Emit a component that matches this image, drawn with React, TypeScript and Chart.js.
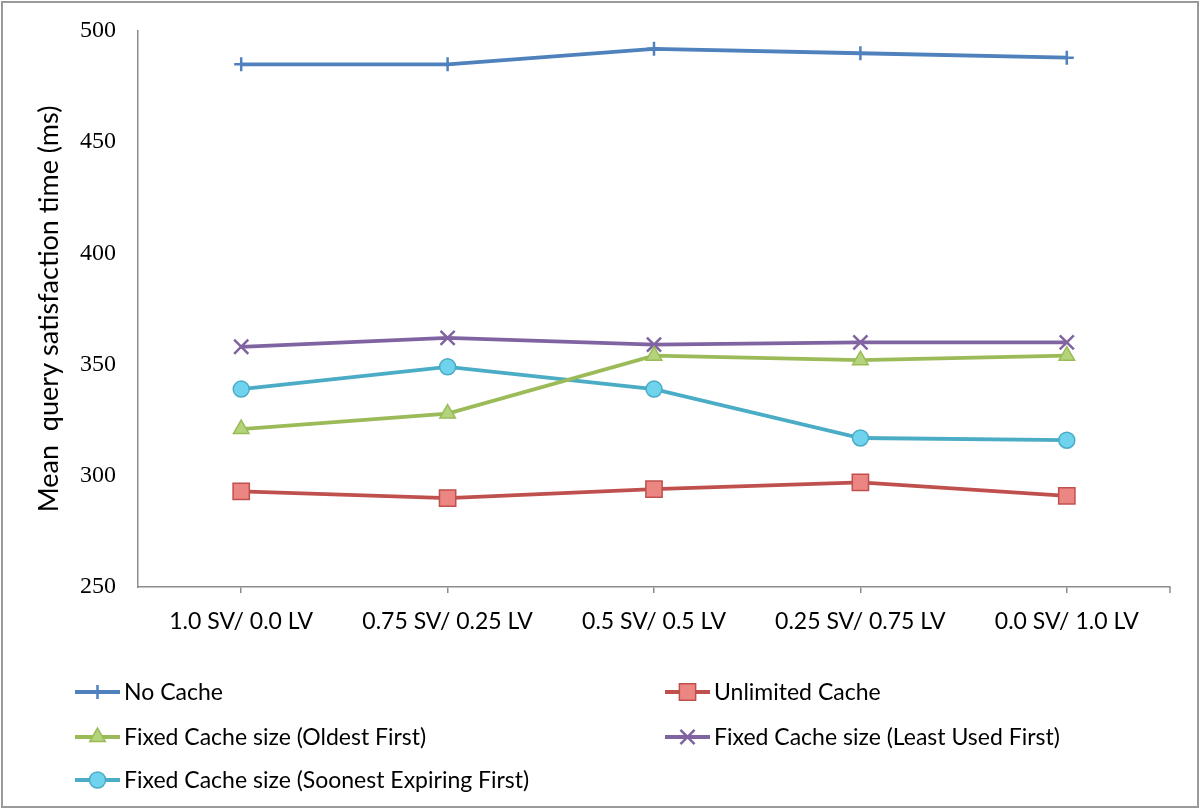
import React, { useEffect, useRef } from 'react';
import { Chart, registerables } from 'chart.js';
import { drawPoint } from 'chart.js/helpers';

Chart.register(...registerables);

const categories = ['1.0 SV/ 0.0 LV', '0.75 SV/ 0.25 LV', '0.5 SV/ 0.5 LV', '0.25 SV/ 0.75 LV', '0.0 SV/ 1.0 LV'];
const noCache = [485, 485, 492, 490, 488];
const unlimitedCache = [293, 290, 294, 297, 291];
const oldestFirst = [321, 328, 354, 352, 354];
const leastUsedFirst = [358, 362, 359, 360, 360];
const soonestExpiringFirst = [339, 349, 339, 317, 316];
const seriesLabels = [
  'No Cache',
  'Unlimited Cache',
  'Fixed Cache size (Oldest First)',
  'Fixed Cache size (Least Used First)',
  'Fixed Cache size (Soonest Expiring First)',
];
const yTitle = 'Mean  query satisfaction time (ms)';
const yMin = 250;
const yMax = 500;
const yStep = 50;

const SANS = 'Lato, "Open Sans", sans-serif';
const SERIF = '"Liberation Serif", "DejaVu Serif", serif';

const legendSlots = [
  { x: 75, y: 692 },
  { x: 665, y: 692 },
  { x: 75, y: 737 },
  { x: 665, y: 737 },
  { x: 75, y: 780 },
];

const framePlugin = {
  id: 'framePlugin',
  afterDraw(chart: any) {
    const ctx = chart.ctx;
    ctx.save();
    // outer frame
    ctx.strokeStyle = '#9a9a9a';
    ctx.lineWidth = 2;
    ctx.strokeRect(2, 2, chart.width - 4, chart.height - 4);
    // end tick on x axis
    const xs = chart.scales.x;
    ctx.strokeStyle = '#8c8c8c';
    ctx.lineWidth = 1.5;
    ctx.beginPath();
    ctx.moveTo(xs.right, xs.top);
    ctx.lineTo(xs.right, xs.top + 6);
    ctx.stroke();
    // legend
    ctx.font = '23px ' + SANS;
    ctx.textBaseline = 'middle';
    ctx.textAlign = 'left';
    chart.data.datasets.forEach((ds: any, i: number) => {
      const slot = legendSlots[i];
      if (!slot) return;
      ctx.strokeStyle = ds.borderColor;
      ctx.lineWidth = 4;
      ctx.beginPath();
      ctx.moveTo(slot.x, slot.y);
      ctx.lineTo(slot.x + 45, slot.y);
      ctx.stroke();
      ctx.fillStyle = ds.pointBackgroundColor;
      ctx.strokeStyle = ds.pointBorderColor;
      ctx.lineWidth = ds.pointBorderWidth;
      drawPoint(ctx, { pointStyle: ds.pointStyle, radius: ds.pointRadius, rotation: 0, borderWidth: ds.pointBorderWidth }, slot.x + 22.5, slot.y);
      ctx.fillStyle = '#000000';
      ctx.fillText(ds.label, slot.x + 49, slot.y + 1);
    });
    ctx.restore();
  },
};

export default function App() {
  const ref = useRef<HTMLCanvasElement>(null);
  useEffect(() => {
    document.body.style.margin = '0';
    const ctx = ref.current!.getContext('2d')!;
    const mk = (label: string, data: number[], color: string, fill: string, style: string, radius: number, bw: number) => ({
      label,
      data,
      borderColor: color,
      backgroundColor: color,
      borderWidth: 3.8,
      pointStyle: style,
      pointRadius: radius,
      pointHoverRadius: radius,
      pointBackgroundColor: fill,
      pointBorderColor: color,
      pointBorderWidth: bw,
      tension: 0,
    });
    const chart = new Chart(ctx, {
      type: 'line',
      data: {
        labels: categories,
        datasets: [
          mk(seriesLabels[0], noCache, '#4F81BD', '#4F81BD', 'cross', 7, 2.5),
          mk(seriesLabels[1], unlimitedCache, '#C0504D', '#EC8682', 'rect', 11.5, 1.5),
          mk(seriesLabels[2], oldestFirst, '#9BBB59', '#B3D47A', 'triangle', 9, 1.5),
          mk(seriesLabels[3], leastUsedFirst, '#8064A2', '#8064A2', 'crossRot', 10, 2.5),
          mk(seriesLabels[4], soonestExpiringFirst, '#4BACC6', '#6FD3EE', 'circle', 8, 1.5),
        ],
      },
      options: {
        responsive: false,
        animation: false,
        layout: { padding: { top: 31, right: 30, bottom: 162, left: 0 } },
        plugins: { legend: { display: false }, tooltip: { enabled: false } },
        scales: {
          x: {
            type: 'category',
            offset: true,
            afterFit: (s: any) => { s.height = 60; s.paddingLeft = 0; s.paddingRight = 0; },
            grid: { display: true, drawOnChartArea: false, drawTicks: true, tickLength: 6, color: '#8c8c8c', lineWidth: 1.5, offset: false },
            border: { display: true, color: '#8c8c8c', width: 1.5 },
            ticks: { color: '#000000', font: { family: SANS, size: 23 }, padding: 15, maxRotation: 0, autoSkip: false },
          },
          y: {
            min: yMin,
            max: yMax,
            afterFit: (s: any) => { s.width = 138; s.paddingTop = 0; s.paddingBottom = 0; },
            grid: { display: false, drawTicks: false },
            border: { display: true, color: '#8c8c8c', width: 1.5 },
            ticks: { stepSize: yStep, color: '#000000', font: { family: SERIF, size: 24 }, padding: 22 },
            title: { display: true, text: yTitle, color: '#000000', font: { family: SANS, size: 27 }, padding: { top: 33, bottom: 0 } },
          },
        },
      },
      plugins: [framePlugin],
    });
    return () => chart.destroy();
  }, []);
  return <canvas ref={ref} width={1200} height={809} style={{ display: 'block' }} />;
}
